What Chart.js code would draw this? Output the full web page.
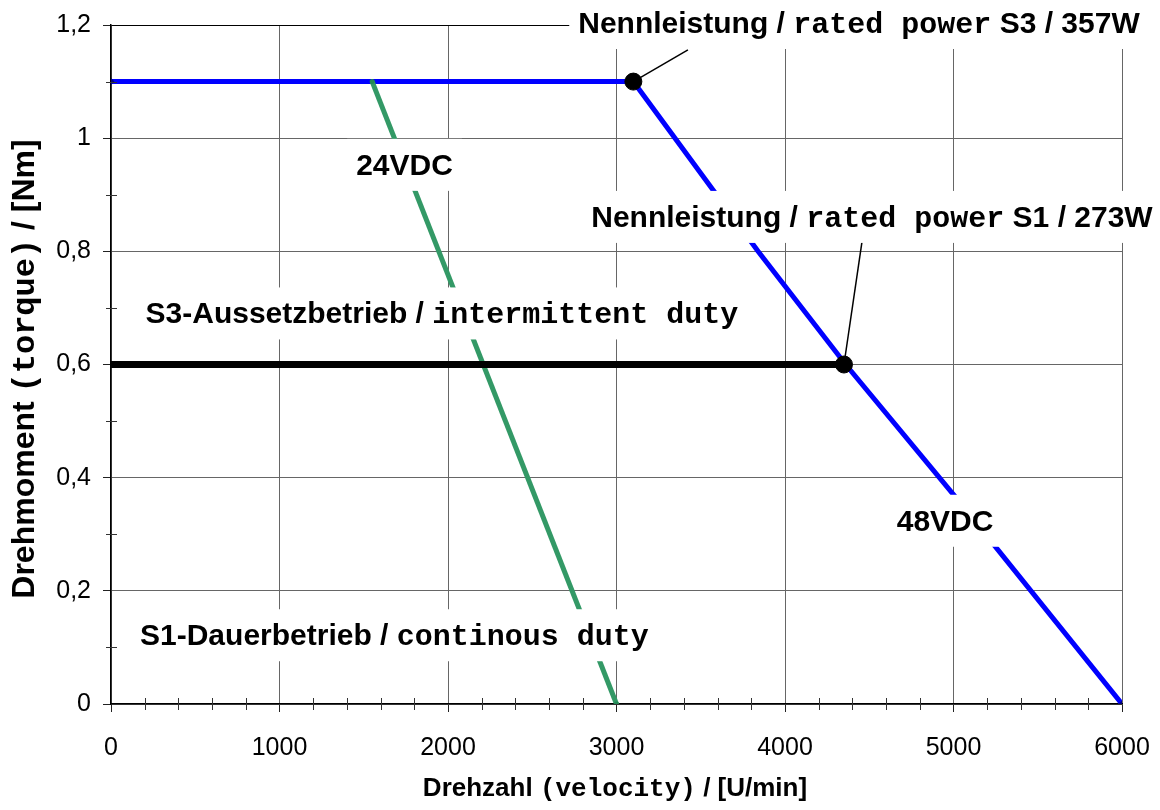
<!DOCTYPE html>
<html>
<head>
<meta charset="utf-8">
<style>
  html, body { margin: 0; padding: 0; background: #fff; }
  #wrap { width: 1160px; height: 810px; position: relative; }
</style>
<script src="https://cdn.jsdelivr.net/npm/chart.js@4/dist/chart.umd.min.js"></script>
</head>
<body>
<div id="wrap"><canvas id="myChart"></canvas></div>
<script>
/* Kennlinie Drehmoment / Drehzahl */
const speed48 = [0, 3100, 3840, 4360, 5000, 6000];
const torque48 = [1.1, 1.1, 0.8, 0.6, 0.37, 0];
const speed24 = [1550, 3000];
const torque24 = [1.1, 0];
const speedS1 = [0, 4350];
const torqueS1 = [0.6, 0.6];
const ratedSpeed = [3100, 4350];
const ratedTorque = [1.1, 0.6];
const xMinorTicks = [200, 400, 600, 800, 1200, 1400, 1600, 1800, 2200, 2400, 2600, 2800,
  3200, 3400, 3600, 3800, 4200, 4400, 4600, 4800, 5200, 5400, 5600, 5800];
const yMinorTicks = [0.1, 0.3, 0.5, 0.7, 0.9, 1.1];

const SANS = '"Liberation Sans", Arial, sans-serif';
const MONO = '"Liberation Mono", "Courier New", monospace';

// text boxes (center in data coordinates)
const notes = [
  { parts: [["Nennleistung / ", "s"], ["rated power", "m"], [" S3 / 357W", "s"]], x: 4439, y: 1.2053 },
  { parts: [["24VDC", "s"]], x: 1742, y: 0.9546 },
  { parts: [["Nennleistung / ", "s"], ["rated power", "m"], [" S1 / 273W", "s"]], x: 4516, y: 0.8626 },
  { parts: [["S3-Aussetzbetrieb / ", "s"], ["intermittent duty", "m"]], x: 1964, y: 0.692, padX: 14 },
  { parts: [["48VDC", "s"]], x: 4950, y: 0.3256 },
  { parts: [["S1-Dauerbetrieb / ", "s"], ["continous duty", "m"]], x: 1682, y: 0.1233 }
];
const leaders = [
  { from: [3100, 1.1], to: [3424, 1.156] },
  { from: [4350, 0.6], to: [4457, 0.817] }
];

function toPoints(xs, ys) {
  return xs.map((x, i) => ({ x: x, y: ys[i] }));
}

function partsWidth(ctx, parts, size) {
  return parts.map(p => {
    ctx.font = "bold " + size + "px " + (p[1] === "m" ? MONO : SANS);
    return ctx.measureText(p[0]).width;
  });
}

function drawParts(ctx, parts, cx, cy, size) {
  const w = partsWidth(ctx, parts, size);
  const total = w.reduce((a, b) => a + b, 0);
  let x = cx - total / 2;
  ctx.fillStyle = "#000";
  ctx.textAlign = "left";
  ctx.textBaseline = "alphabetic";
  parts.forEach((p, i) => {
    ctx.font = "bold " + size + "px " + (p[1] === "m" ? MONO : SANS);
    ctx.fillText(p[0], x, cy + size * 0.36);
    x += w[i];
  });
}

const extras = {
  id: "extras",
  afterDatasetsDraw(chart) {
    const ctx = chart.ctx;
    const xs = chart.scales.x, ys = chart.scales.y;
    const size = 30;
    ctx.save();
    // leader lines
    ctx.strokeStyle = "#000";
    ctx.lineWidth = 1.5;
    leaders.forEach(l => {
      ctx.beginPath();
      ctx.moveTo(xs.getPixelForValue(l.from[0]), ys.getPixelForValue(l.from[1]));
      ctx.lineTo(xs.getPixelForValue(l.to[0]), ys.getPixelForValue(l.to[1]));
      ctx.stroke();
    });
    // text boxes
    notes.forEach(n => {
      const cx = xs.getPixelForValue(n.x), cy = ys.getPixelForValue(n.y);
      const total = partsWidth(ctx, n.parts, size).reduce((a, b) => a + b, 0);
      const pad = n.padX || 9;
      ctx.fillStyle = "#fff";
      ctx.fillRect(cx - total / 2 - pad, cy - 25, total + 2 * pad, 52);
      drawParts(ctx, n.parts, cx, cy, size);
    });
    ctx.restore();
  },
  afterDraw(chart) {
    const ctx = chart.ctx;
    const xs = chart.scales.x, ys = chart.scales.y;
    const area = chart.chartArea;
    ctx.save();
    ctx.strokeStyle = "#333";
    ctx.lineWidth = 1;
    xMinorTicks.forEach(v => {
      const px = Math.round(xs.getPixelForValue(v)) + 0.5;
      ctx.beginPath();
      ctx.moveTo(px, area.bottom - 6);
      ctx.lineTo(px, area.bottom + 6);
      ctx.stroke();
    });
    yMinorTicks.forEach(v => {
      const py = Math.round(ys.getPixelForValue(v)) + 0.5;
      ctx.beginPath();
      ctx.moveTo(area.left - 5, py);
      ctx.lineTo(area.left + 6, py);
      ctx.stroke();
    });
    // axis titles
    drawParts(ctx, [["Drehzahl ", "s"], ["(velocity)", "m"], [" / [U/min]", "s"]], 615, 787, 26);
    ctx.translate(22, 369);
    ctx.rotate(-Math.PI / 2);
    drawParts(ctx, [["Drehmoment ", "s"], ["(torque)", "m"], [" / [Nm]", "s"]], 0, 0, 32);
    ctx.restore();
  }
};

Chart.defaults.font.family = SANS;
Chart.defaults.color = "#000";

const config = {
  type: "line",
  data: {
    datasets: [
      {
        label: "Nennleistung",
        data: toPoints(ratedSpeed, ratedTorque),
        showLine: false,
        pointRadius: 8.5,
        pointBackgroundColor: "#000",
        pointBorderColor: "#000",
      },
      {
        label: "S1",
        data: toPoints(speedS1, torqueS1),
        borderColor: "#000",
        borderWidth: 7,
        pointRadius: 0,
      },
      {
        label: "24VDC",
        data: toPoints(speed24, torque24),
        borderColor: "#339966",
        borderWidth: 5,
        pointRadius: 2.5,
        pointBackgroundColor: "#228855",
        pointBorderWidth: 0,
      },
      {
        label: "48VDC",
        data: toPoints(speed48, torque48),
        borderColor: "#0000ff",
        borderWidth: 5,
        pointStyle: "rectRot",
        pointRadius: ctx => (ctx.dataIndex === 0 || ctx.dataIndex === speed48.length - 1) ? 3.5 : 0,
        pointBackgroundColor: "#000080",
        pointBorderWidth: 0,
      },
    ],
  },
  options: {
    responsive: true,
    maintainAspectRatio: false,
    animation: false,
    events: [],
    layout: { padding: { top: 25, right: 38, left: 0, bottom: 0 } },
    plugins: {
      legend: { display: false },
      tooltip: { enabled: false },
    },
    elements: { line: { tension: 0 } },
    scales: {
      x: {
        type: "linear",
        min: 0,
        max: 6000,
        afterFit: s => { s.height = 106; s.paddingLeft = 0; s.paddingRight = 0; },
        ticks: {
          stepSize: 1000,
          font: { size: 25 },
          padding: 21,
          maxRotation: 0,
          autoSkip: false,
          callback: v => String(v),
        },
        grid: { color: "#666", lineWidth: 1, tickLength: 8, tickColor: "#222" },
        border: { color: "#000", width: 1.5 },
      },
      y: {
        min: 0,
        max: 1.2,
        afterFit: s => { s.width = 111; s.paddingTop = 0; s.paddingBottom = 0; },
        ticks: {
          stepSize: 0.2,
          font: { size: 25 },
          padding: 12,
          callback: v => String(Math.round(v * 10) / 10).replace(".", ","),
        },
        grid: {
          color: c => (c.tick && Math.abs(c.tick.value - 1.2) < 1e-6) ? "#000" : "#666",
          lineWidth: 1,
          tickLength: 8,
          tickColor: "#222",
        },
        border: { color: "#000", width: 1.5 },
      },
    },
  },
  plugins: [extras],
};

var myChart = new Chart(document.getElementById("myChart"), config);
</script>
</body>
</html>
